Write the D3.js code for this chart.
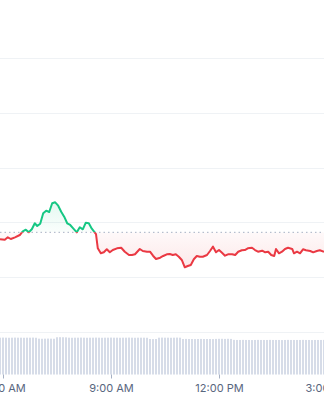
<!DOCTYPE html>
<html>
<head>
<meta charset="utf-8">
<script src="https://cdn.jsdelivr.net/npm/d3@7"></script>
<style>
  body { margin: 0; background: #fff; }
  svg { display: block; font-family: Inter, 'Noto Sans', sans-serif; }
</style>
</head>
<body>
<div id="chart"></div>
<script>
const times = [
  '05:55', '06:03', '06:08', '06:13', '06:20', '06:28', '06:33', '06:38', '06:43', '06:48',
  '06:53', '06:57', '07:02', '07:07', '07:12', '07:17', '07:22', '07:27', '07:32', '07:37',
  '07:42', '07:47', '07:52', '07:57', '08:03', '08:08', '08:13', '08:18', '08:23', '08:28',
  '08:35', '08:38', '08:43', '08:48', '08:53', '08:58', '09:03', '09:10', '09:17', '09:23',
  '09:30', '09:35', '09:40', '09:48', '09:53', '10:00', '10:05', '10:10', '10:15', '10:22',
  '10:27', '10:33', '10:38', '10:43', '10:48', '10:53', '10:58', '11:03', '11:08', '11:13',
  '11:18', '11:23', '11:28', '11:33', '11:40', '11:45', '11:50', '11:55', '12:00', '12:05',
  '12:10', '12:15', '12:22', '12:27', '12:32', '12:38', '12:43', '12:48', '12:55', '13:00',
  '13:05', '13:12', '13:17', '13:22', '13:27', '13:32', '13:35', '13:40', '13:45', '13:50',
  '13:55', '14:02', '14:05', '14:10', '14:15', '14:20', '14:25', '14:32', '14:37', '14:43',
  '14:48', '14:55'
]

const prices = [
  3169.2, 3168.4, 3172.8, 3169.7, 3172.8, 3177.0, 3183.8, 3186.7, 3181.9, 3187.4,
  3198.4, 3193.4, 3197.6, 3216.6, 3221.4, 3219.0, 3234.9, 3236.7, 3230.5, 3219.5,
  3210.4, 3198.4, 3195.3, 3189.2, 3181.9, 3191.1, 3187.4, 3199.5, 3198.4, 3188.5,
  3178.8, 3152.7, 3143.6, 3145.4, 3150.9, 3145.4, 3149.6, 3152.7, 3153.8, 3146.5,
  3140.5, 3140.5, 3141.8, 3151.5, 3147.8, 3146.5, 3146.5, 3139.2, 3133.2, 3135.6,
  3138.7, 3141.8, 3142.3, 3140.5, 3141.8, 3137.4, 3131.4, 3118.1, 3120.4, 3122.3,
  3132.7, 3138.7, 3137.4, 3137.4, 3140.5, 3147.8, 3155.7, 3145.4, 3149.6, 3144.7,
  3139.2, 3141.8, 3141.8, 3140.5, 3146.5, 3149.1, 3149.6, 3152.7, 3153.8, 3149.6,
  3146.5, 3148.4, 3145.4, 3146.5, 3140.5, 3138.7, 3151.5, 3143.6, 3146.5, 3151.5,
  3153.8, 3151.5, 3143.6, 3146.5, 3143.6, 3150.9, 3149.1, 3147.8, 3145.4, 3147.8,
  3149.1, 3146.5
]

const openPrice = 3181.9

const volumes = [
  4.49, 4.50, 4.49, 4.48, 4.49, 4.50, 4.49, 4.49, 4.48, 4.49, 4.49, 4.50, 4.48,
  4.37, 4.36, 4.37, 4.38, 4.37, 4.36,
  4.54, 4.55, 4.54, 4.53,
  4.49, 4.48, 4.49, 4.49, 4.50, 4.49, 4.48, 4.49, 4.49, 4.50, 4.49, 4.48, 4.49, 4.49,
  4.50, 4.49, 4.49, 4.48, 4.49, 4.49, 4.50, 4.49, 4.48, 4.49, 4.49, 4.49, 4.48,
  4.33, 4.32, 4.33,
  4.49, 4.50, 4.49, 4.49, 4.48, 4.49, 4.50, 4.49,
  4.33, 4.34, 4.33, 4.33, 4.32, 4.33, 4.34, 4.33, 4.33, 4.33, 4.32, 4.34, 4.35, 4.35,
  4.34, 4.35, 4.34,
  4.22, 4.21, 4.21, 4.22, 4.21, 4.21, 4.20, 4.21, 4.22, 4.21, 4.21, 4.21, 4.22, 4.21,
  4.21, 4.21, 4.20, 4.21, 4.22, 4.21, 4.21, 4.21, 4.21, 4.22, 4.21, 4.21, 4.20, 4.21,
  4.21, 4.21, 4.22, 4.21
]

const priceTicks = [3000, 3100, 3200, 3300, 3400, 3500]
const timeTicks = ['06:00', '09:00', '12:00', '15:00']

const fullWidth = 324,
  fullHeight = 400

const parse = d3.timeParse('%H:%M')
const points = times.map((t, i) => ({ date: parse(t), price: prices[i] }))
const bars = d3.timeMinutes(parse('05:55'), parse('15:00'), 5)
  .map((date, i) => ({ date, vol: volumes[i] }))
  .filter(d => d.vol !== undefined)

const svg = d3.select('#chart')
  .append('svg')
    .attr('width', fullWidth)
    .attr('height', fullHeight)

const xScale = d3.scaleTime()
  .domain([parse('06:00'), parse('15:00')])
  .range([3, 327])

const yScale = d3.scaleLinear()
  .domain([3000, 3500])
  .range([332, 58])

const vScale = d3.scaleLinear()
  .domain([0, 5])
  .range([374.5, 333.5])

const yBase = yScale(openPrice)

// grid
svg.append('g')
  .selectAll('line')
  .data(priceTicks)
  .enter()
  .append('line')
    .attr('x1', 0)
    .attr('x2', fullWidth)
    .attr('y1', d => Math.round(yScale(d)) + 0.5)
    .attr('y2', d => Math.round(yScale(d)) + 0.5)
    .style('stroke', '#eff2f5')
    .style('stroke-width', 1)

// volume
svg.append('g')
  .selectAll('rect')
  .data(bars)
  .enter()
  .append('rect')
    .attr('x', d => xScale(d.date) - 1)
    .attr('width', 2)
    .attr('y', d => vScale(d.vol))
    .attr('height', d => vScale(0) - vScale(d.vol))
    .style('fill', '#cfd6e4')
    .style('opacity', 0.85)

const defs = svg.append('defs')

defs.append('clipPath').attr('id', 'clip-up')
  .append('rect')
    .attr('x', 0).attr('y', 0)
    .attr('width', fullWidth).attr('height', yBase)
defs.append('clipPath').attr('id', 'clip-down')
  .append('rect')
    .attr('x', 0).attr('y', yBase)
    .attr('width', fullWidth).attr('height', fullHeight - yBase)

const gUp = defs.append('linearGradient').attr('id', 'grad-up')
  .attr('gradientUnits', 'userSpaceOnUse')
  .attr('x1', 0).attr('x2', 0).attr('y1', yScale(3240)).attr('y2', yBase)
gUp.append('stop').attr('offset', 0).attr('stop-color', '#16c784').attr('stop-opacity', 0.12)
gUp.append('stop').attr('offset', 1).attr('stop-color', '#16c784').attr('stop-opacity', 0.02)

const gDown = defs.append('linearGradient').attr('id', 'grad-down')
  .attr('gradientUnits', 'userSpaceOnUse')
  .attr('x1', 0).attr('x2', 0).attr('y1', yBase).attr('y2', yScale(3115))
gDown.append('stop').attr('offset', 0).attr('stop-color', '#ea3943').attr('stop-opacity', 0.03)
gDown.append('stop').attr('offset', 1).attr('stop-color', '#ea3943').attr('stop-opacity', 0.12)

const area = d3.area()
  .x(d => xScale(d.date))
  .y0(yBase)
  .y1(d => yScale(d.price))

const line = d3.line()
  .x(d => xScale(d.date))
  .y(d => yScale(d.price))

svg.append('path')
  .attr('d', area(points))
  .attr('clip-path', 'url(#clip-up)')
  .style('fill', 'url(#grad-up)')

svg.append('path')
  .attr('d', area(points))
  .attr('clip-path', 'url(#clip-down)')
  .style('fill', 'url(#grad-down)')

// open price
svg.append('line')
  .attr('x1', 0)
  .attr('x2', fullWidth)
  .attr('y1', yBase)
  .attr('y2', yBase)
  .style('stroke', '#a6b0c3')
  .style('stroke-width', 1)
  .style('stroke-dasharray', '1.5 3')

svg.append('path')
  .attr('d', line(points))
  .attr('clip-path', 'url(#clip-up)')
  .style('stroke', '#16c784')
  .style('stroke-width', 2)
  .style('stroke-linejoin', 'round')
  .style('fill', 'none')

svg.append('path')
  .attr('d', line(points))
  .attr('clip-path', 'url(#clip-down)')
  .style('stroke', '#ea3943')
  .style('stroke-width', 2)
  .style('stroke-linejoin', 'round')
  .style('fill', 'none')

const xAxis = svg.append('g')
  .attr('transform', `translate(0, ${vScale(0)})`)
  .call(d3.axisBottom(xScale)
    .tickValues(timeTicks.map(parse))
    .tickFormat(d3.timeFormat('%-I:%M %p'))
    .tickSize(4)
    .tickPadding(6))

xAxis.select('.domain').remove()
xAxis.selectAll('.tick line').style('stroke', '#a6b0c3')
xAxis.selectAll('.tick text')
  .style('fill', '#58667e')
  .style('font-size', '11px')
  .style('font-family', 'Inter, sans-serif')
</script>
</body>
</html>
